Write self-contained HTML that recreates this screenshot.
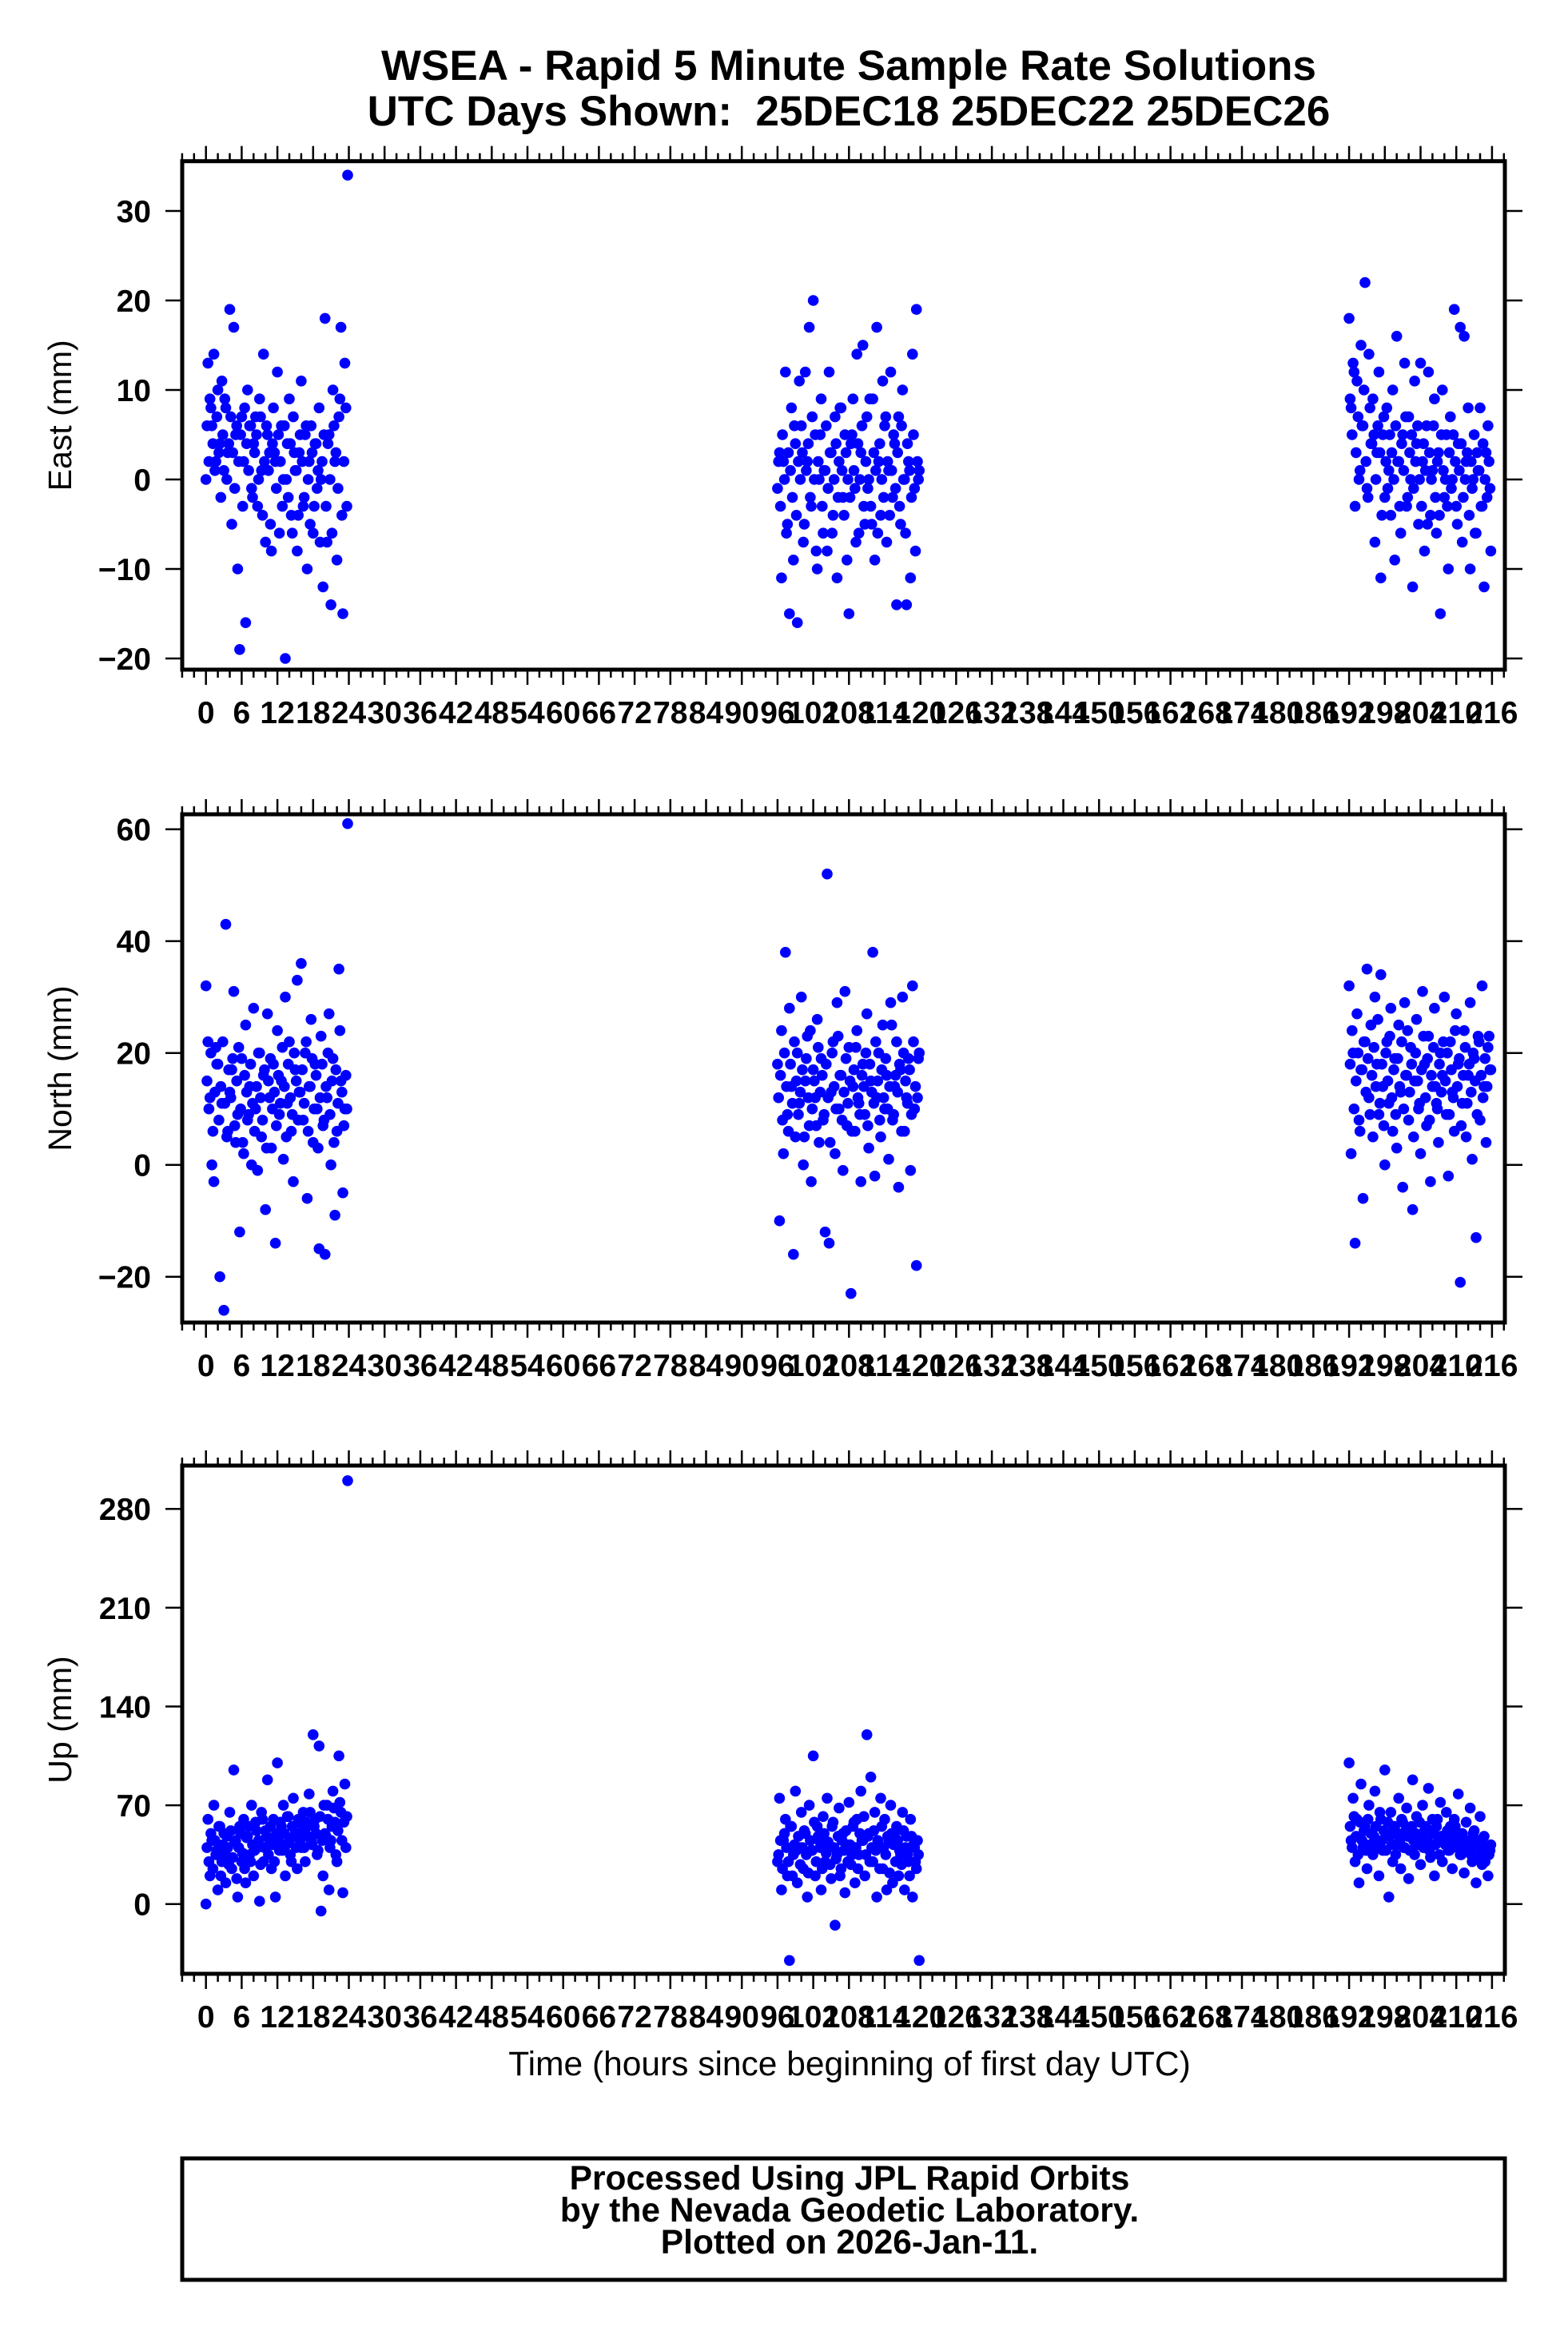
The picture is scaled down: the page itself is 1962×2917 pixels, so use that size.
<!DOCTYPE html>
<html>
<head>
<meta charset="utf-8">
<style>
  html,body{margin:0;padding:0;background:#fff;}
  svg{display:block;}
  text{font-family:"Liberation Sans",Arial,sans-serif;fill:#000;}
</style>
</head>
<body>
<svg id="chart" width="1962" height="2917" viewBox="0 0 1962 2917" xmlns="http://www.w3.org/2000/svg">
  <rect x="0" y="0" width="1962" height="2917" fill="#fff"/>
  <text x="1062" y="100" text-anchor="middle" font-size="53" font-weight="bold">WSEA - Rapid 5 Minute Sample Rate Solutions</text>
  <text x="1062" y="157" text-anchor="middle" font-size="53" font-weight="bold">UTC Days Shown:&#160; 25DEC18 25DEC22 25DEC26</text>
  <text x="1063" y="2597" text-anchor="middle" font-size="42.5">Time (hours since beginning of first day UTC)</text>
  <rect x="228" y="2701" width="1655" height="152" fill="none" stroke="#000" stroke-width="5"/>
  <text x="1063" y="2740" text-anchor="middle" font-size="42.5" font-weight="bold">Processed Using JPL Rapid Orbits</text>
  <text x="1063" y="2780" text-anchor="middle" font-size="42.5" font-weight="bold">by the Nevada Geodetic Laboratory.</text>
  <text x="1063" y="2820" text-anchor="middle" font-size="42.5" font-weight="bold">Plotted on 2026-Jan-11.</text>
</svg>
<script>
// ---- data ----
const dayStarts = [0, 96, 192];
const hours = [0,0.33,0.67,1,1.33,1.67,2,2.33,2.67,3,3.33,3.67,4,4.33,4.67,5,5.33,5.67,6,6.33,6.67,7,7.33,7.67,8,8.33,8.67,9,9.33,9.67,10,10.33,10.67,11,11.33,11.67,12,12.33,12.67,13,13.33,13.67,14,14.33,14.67,15,15.33,15.67,16,16.33,16.67,17,17.33,17.67,18,18.33,18.67,19,19.33,19.67,20,20.33,20.67,21,21.33,21.67,22,22.33,22.67,23,23.33,23.8];
const hoursB = [0.17,0.5,0.83,1.17,1.5,1.83,2.17,2.5,2.83,3.17,3.5,3.83,4.17,4.5,4.83,5.17,5.5,5.83,6.17,6.5,6.83,7.17,7.5,7.83,8.17,8.5,8.83,9.17,9.5,9.83,10.17,10.5,10.83,11.17,11.5,11.83,12.17,12.5,12.83,13.17,13.5,13.83,14.17,14.5,14.83,15.17,15.5,15.83,16.17,16.5,16.83,17.17,17.5,17.83,18.17,18.5,18.83,19.17,19.5,19.83,20.17,20.5,20.83,21.17,21.5,21.83,22.17,22.5,22.83,23.17,23.5,23.67];
const xTickLabels = [0,6,12,18,24,30,36,42,48,54,60,66,72,78,84,90,96,102,108,114,120,126,132,138,144,150,156,162,168,174,180,186,192,198,204,210,216];
const eastTicks = [-20,-10,0,10,20,30];
const northTicks = [-20,0,20,40,60];
const upTicks = [0,70,140,210,280];
const east1 = [0,13,9,6,14,2,10,4,11,1,8,3,19,-5,17,5,-10,-19,7,2,-16,10,6,-1,4,7,-3,9,1,14,-7,5,3,-8,8,2,12,-6,6,0,-20,4,9,-4,7,1,-8,3,11,-3,5,-10,2,6,-6,4,-1,8,0,-12,18,-7,5,-14,10,2,-9,7,17,-15,13,34];
const east2 = [-1,3,-11,2,12,-5,-15,8,-9,4,-16,11,6,-7,12,2,17,-3,20,5,-10,0,9,-6,1,-8,12,3,-4,7,-11,2,8,-2,5,-9,-15,4,9,-1,14,-6,3,15,-5,7,0,-3,9,-9,17,2,-4,11,6,-7,1,12,-2,4,-14,7,-5,10,0,-14,2,-11,14,-1,19,1];
const east3 = [18,8,13,-3,11,0,15,6,22,-1,14,4,9,-7,3,12,-11,5,-2,8,1,-4,10,-9,16,2,-6,5,13,-3,7,0,-12,11,4,-5,13,2,-8,6,12,-4,1,9,-6,3,-15,10,-2,5,-10,7,0,19,-3,4,17,-7,16,2,8,-10,-1,5,-6,1,8,-3,-12,3,6,-8];
const east1b = [6,2,8,4,1,7,3,-2,5,9,0,4,7,3,-1,6,2,5,-3,8,4,1,6,-2,3,5,0,7,-4,2,6,1,-5,4,3,-1,5,2,-3,6,0,-2,4,-6,3,1,-4,5,2,-2,6,0,-5,3,-3,4,1,-7,2,5,-3,4,0,-6,6,3,-1,9,-4,2,8,-3];
const east2b = [2,-3,5,0,-6,3,1,-2,6,-4,2,0,3,-5,1,4,-2,7,0,-8,2,5,-3,1,6,-1,3,-6,0,4,-2,8,1,-4,3,0,-2,5,1,-7,4,0,6,-3,2,-1,9,-5,3,1,-6,4,0,-2,7,2,-4,1,5,-1,3,-3,6,0,-6,4,1,-2,5,-8,2,0];
const east3b = [9,5,12,3,7,1,6,10,2,-2,8,4,5,0,6,3,-4,7,2,-1,5,3,0,6,2,-3,4,1,7,-2,3,5,-1,2,6,0,-3,4,1,-5,3,0,6,-2,2,-4,5,1,0,-3,3,-1,5,2,-5,1,4,-2,0,3,-4,2,0,-6,3,1,-3,4,0,-2,2,-1];
const north1 = [32,22,12,0,-3,21,18,-20,11,-26,43,6,13,17,31,4,9,-12,19,2,25,8,14,0,28,10,-1,20,5,16,-8,27,12,3,18,-14,24,9,15,1,30,11,22,6,-3,17,33,13,36,8,20,-6,14,26,4,18,10,-15,23,7,-16,12,27,0,19,-9,6,35,15,-5,10,61];
const north2 = [18,-10,24,2,38,9,28,14,-16,5,20,11,30,0,15,23,7,-3,17,12,26,4,19,8,-12,52,-14,13,22,2,29,10,16,-1,31,7,21,-23,14,6,24,11,-3,18,9,27,3,15,38,-2,12,20,5,25,10,16,1,29,8,14,22,-4,17,30,6,12,19,-1,32,10,-18,20];
const north3 = [32,2,20,-14,27,8,17,-6,22,35,12,25,5,30,18,9,34,14,0,22,11,28,6,19,3,25,13,-4,29,16,8,21,-8,15,26,10,2,31,18,7,23,-3,14,28,11,4,20,16,30,9,-2,22,13,6,27,18,-21,11,24,5,16,29,1,19,-13,23,8,32,14,4,21,17];
const north1b = [15,10,20,6,13,18,8,14,22,11,5,17,12,19,7,15,21,10,4,16,13,9,18,11,6,14,20,12,8,17,3,15,19,10,13,7,16,11,21,14,5,18,12,9,20,15,8,13,17,11,22,6,14,19,10,16,3,12,18,8,14,20,9,15,4,17,11,24,13,7,16,10];
const north2b = [12,16,8,20,14,6,18,11,22,15,9,13,17,5,19,12,24,10,15,7,21,13,16,9,18,12,4,20,14,10,23,16,8,13,19,11,15,6,17,21,12,9,16,14,20,7,18,13,11,22,15,8,17,12,19,10,14,25,9,16,13,18,6,20,15,11,17,9,22,14,12,19];
const north3b = [18,24,10,15,20,6,17,22,13,19,9,16,21,14,26,11,18,7,20,15,23,12,17,9,19,14,22,10,16,24,13,18,5,20,15,11,17,23,12,19,8,16,21,14,10,18,13,22,15,20,9,17,12,24,14,19,7,16,21,11,18,13,20,15,9,22,16,12,19,14,23,17];
const up1 = [0,60,20,45,70,35,10,55,30,50,15,40,65,25,95,45,5,55,30,60,15,48,35,70,20,58,40,2,65,30,52,88,45,25,60,5,100,38,55,70,20,62,45,30,75,50,25,58,40,65,30,55,78,45,120,60,35,112,-5,20,50,70,10,45,80,58,30,105,65,8,85,300];
const up2 = [30,75,10,45,60,20,-40,55,35,80,15,40,65,25,50,5,70,38,105,20,55,45,10,62,30,75,40,18,58,-15,35,68,25,50,8,42,72,28,55,15,60,35,80,45,20,120,50,90,30,65,5,40,75,25,60,10,45,70,15,50,55,20,35,65,10,48,30,60,5,40,25,-40];
const up3 = [100,45,75,30,60,15,85,40,55,25,70,50,35,80,45,20,60,38,95,50,5,65,30,55,42,75,25,58,40,68,18,50,88,35,62,45,28,70,52,40,82,33,60,20,55,45,72,30,48,65,38,55,25,60,42,78,35,50,22,58,40,68,30,52,15,45,62,28,48,35,20,42];
const up1b = [40,30,50,25,45,38,55,20,42,35,48,28,52,33,44,18,40,50,36,25,47,55,30,42,38,52,45,28,60,40,48,35,55,42,30,50,45,58,38,50,42,62,35,55,48,40,60,45,52,40,58,48,65,42,55,50,38,62,45,70,48,60,40,55,68,35,52,72,45,58,40,62];
const up2b = [35,45,25,50,40,30,55,20,42,38,48,28,40,52,35,22,45,38,58,30,48,40,25,50,36,44,28,55,40,32,48,20,45,38,52,30,42,35,58,40,25,50,45,62,35,48,30,40,52,38,45,25,55,40,35,48,22,50,42,30,45,38,28,52,40,35,20,48,42,30,45,35];
const up3b = [55,40,62,48,35,58,45,52,38,60,42,50,48,55,40,65,45,52,38,58,48,42,55,35,50,45,60,40,52,48,38,55,45,50,42,58,48,40,55,45,38,52,50,42,60,35,48,45,42,52,38,48,45,55,40,50,35,46,42,38,45,35,50,40,32,45,38,42,30,40,35,38];

// ---- layout ----
const NS = "http://www.w3.org/2000/svg";
const svg = document.getElementById('chart');
const FL = 228, FR = 1883;
const X0 = 257.7, XPH = 7.45;
function xScale(h){ return X0 + h*XPH; }

const panels = [
  {name:'east', title:'East (mm)', top:201.7, bot:838, y0:600, ppu:11.2, ticks:eastTicks, series:[east1,east2,east3], seriesB:[east1b,east2b,east3b], labelBase:905},
  {name:'north', title:'North (mm)', top:1019, bot:1655, y0:1457.7, ppu:7.0, ticks:northTicks, series:[north1,north2,north3], seriesB:[north1b,north2b,north3b], labelBase:1722},
  {name:'up', title:'Up (mm)', top:1834, bot:2470, y0:2382.7, ppu:1.766, ticks:upTicks, series:[up1,up2,up3], seriesB:[up1b,up2b,up3b], labelBase:2537}
];

function mk(tag, attrs){
  const e = document.createElementNS(NS, tag);
  for (const k in attrs) e.setAttribute(k, attrs[k]);
  return e;
}

panels.forEach(p => {
  const g = mk('g', {});
  
  
  svg.appendChild(g);
  const yScale = v => p.y0 - v*p.ppu;

  const pts = mk('g', {fill:'#0000ff'});
  
  
  g.appendChild(pts);
  const addPts = (sets, hrs) => {
    sets.forEach((vals, d) => {
      vals.forEach((v, i) => {
        const c = mk('circle', {cx: xScale(dayStarts[d] + hrs[i]).toFixed(1), cy: yScale(v).toFixed(1), r: 6.8});
        
        
        pts.appendChild(c);
      });
    });
  };
  addPts(p.seriesB, hoursB);
  addPts(p.series, hours);

  const fr = mk('rect', {x:FL, y:p.top, width:FR-FL, height:p.bot-p.top, fill:'none', stroke:'#000', 'stroke-width':5});
  
  
  g.appendChild(fr);

  for (let h = -4; h <= 218; h += 2) {
    const x = xScale(h);
    const major = (h % 6 === 0);
    const len = major ? 17 : 8;
    const t1 = mk('line', {x1:x, x2:x, y1:p.top-2, y2:p.top-2-len, stroke:'#000', 'stroke-width':2.5});
    
    
    g.appendChild(t1);
    const t2 = mk('line', {x1:x, x2:x, y1:p.bot+2, y2:p.bot+2+len, stroke:'#000', 'stroke-width':2.5});
    
    
    g.appendChild(t2);
  }
  xTickLabels.forEach(v => {
    const t = mk('text', {x:xScale(v), y:p.labelBase, 'text-anchor':'middle', 'font-size':39, 'font-weight':'bold'});
    t.textContent = v;
    
    
    g.appendChild(t);
  });
  p.ticks.forEach(v => {
    const y = yScale(v);
    const l = mk('line', {x1:207, x2:FL, y1:y, y2:y, stroke:'#000', 'stroke-width':2.5});
    
    
    g.appendChild(l);
    const r = mk('line', {x1:FR, x2:FR+22, y1:y, y2:y, stroke:'#000', 'stroke-width':2.5});
    
    
    g.appendChild(r);
    const t = mk('text', {x:189, y:y+14, 'text-anchor':'end', 'font-size':39, 'font-weight':'bold'});
    t.textContent = v < 0 ? '\u2212' + Math.abs(v) : String(v);
    
    
    g.appendChild(t);
  });
  const cy = (p.top + p.bot)/2;
  const yt = mk('text', {x:89, y:cy, 'text-anchor':'middle', 'font-size':41, transform:'rotate(-90 89 ' + cy + ')'});
  yt.textContent = p.title;
  
  
  g.appendChild(yt);
});
</script>
</body>
</html>
